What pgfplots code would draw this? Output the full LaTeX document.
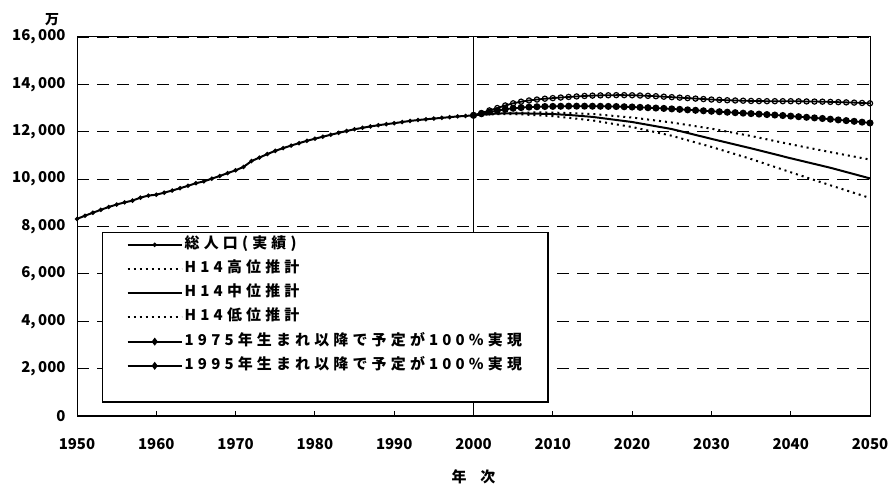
\documentclass[border=0pt]{standalone}
\usepackage{pgfplots}
\pgfplotsset{compat=1.18}
\usepackage{fontspec}
\setmainfont{Noto Sans CJK JP}
\newfontfamily\lgfont{Noto Sans CJK JP}[LetterSpace=28]
\begin{document}
\begin{tikzpicture}
\useasboundingbox (0,0) rectangle (890bp,491bp);
\begin{axis}[
  at={(77bp,75bp)}, anchor=south west,
  scale only axis, width=793bp, height=379bp,
  xmin=1950, xmax=2050, ymin=0, ymax=16000,
  xtick={1950,1960,...,2050}, ytick={0,2000,...,16000},
  xtick pos=left, ytick pos=left,
  tick align=inside, major tick length=5bp,
  tick style={black, line width=1bp},
  ymajorgrids, major grid style={black, line width=1.1bp, dash pattern=on 12bp off 8bp},
  axis line style={line width=1bp},
  /pgf/number format/assume math mode=true,
  scaled y ticks=false,
  xticklabel style={font=\bfseries\fontsize{15}{15}\selectfont, /pgf/number format/1000 sep={}, yshift=-19bp},
  yticklabel style={font=\bfseries\fontsize{15}{15}\selectfont, /pgf/number format/1000 sep={,\,}, xshift=-8bp},
  legend style={at={(0.0315,0.4855)}, anchor=north west, draw=black, line width=1.5bp, fill=white,
    inner xsep=24bp, inner ysep=0bp, row sep=0bp,
    font=\lgfont\bfseries\fontsize{15}{15}\selectfont,
    nodes={inner ysep=0bp, inner xsep=2bp, text height=15.5bp, text depth=8.7bp}},
  legend cell align=left,
  legend image code/.code={\draw[mark repeat=2,mark phase=2,#1] plot coordinates {(0bp,0bp)(27bp,0bp)(54bp,0bp)};},
]
\addplot[black, line width=2bp, mark=*, mark size=1bp] coordinates {
(1950,8320)(1951,8454)(1952,8581)(1953,8703)(1954,8824)(1955,8928)(1956,9017)(1957,9093)(1958,9218)(1959,9306)
(1960,9342)(1961,9429)(1962,9518)(1963,9616)(1964,9718)(1965,9828)(1966,9904)(1967,10020)(1968,10133)(1969,10254)
(1970,10372)(1971,10515)(1972,10760)(1973,10910)(1974,11057)(1975,11194)(1976,11309)(1977,11417)(1978,11519)(1979,11616)
(1980,11706)(1981,11790)(1982,11873)(1983,11954)(1984,12031)(1985,12105)(1986,12166)(1987,12224)(1988,12275)(1989,12321)
(1990,12361)(1991,12410)(1992,12457)(1993,12494)(1994,12527)(1995,12557)(1996,12586)(1997,12616)(1998,12647)(1999,12667)
(2000,12693)};
\addlegendentry{総人口(実績)}
\addplot[black, line width=2bp, dash pattern=on 2bp off 4bp] coordinates {
(2000,12693)(2002,12760)(2005,12800)(2008,12816)(2010,12810)(2015,12750)(2020,12600)(2025,12390)(2030,12130)(2035,11820)(2040,11470)(2045,11140)(2050,10825)};
\addlegendentry{H14高位推計}
\addplot[black, line width=2bp] coordinates {
(2000,12693)(2002,12752)(2004,12777)(2006,12774)(2008,12764)(2010,12747)(2012,12709)(2015,12627)(2020,12411)(2025,12114)(2030,11700)(2035,11300)(2040,10880)(2045,10480)(2050,10030)};
\addlegendentry{H14中位推計}
\addplot[black, line width=2bp, dash pattern=on 2bp off 4bp] coordinates {
(2000,12693)(2002,12730)(2004,12748)(2006,12735)(2010,12660)(2015,12480)(2020,12200)(2025,11830)(2030,11360)(2035,10850)(2040,10290)(2045,9740)(2050,9203)};
\addlegendentry{H14低位推計}
\addplot[black, line width=1.8bp, mark=o, mark size=2.6bp, mark options={solid, line width=1.2bp, fill=white},
  legend image post style={mark=diamond*, mark options={fill=black}}] coordinates {
(2000,12693)(2001,12790)(2002,12900)(2003,13000)(2004,13110)(2005,13200)(2006,13270)(2007,13320)(2008,13360)(2009,13395)
(2010,13420)(2011,13445)(2012,13470)(2013,13490)(2014,13510)(2015,13525)(2016,13535)(2017,13540)(2018,13545)(2019,13545)
(2020,13540)(2021,13530)(2022,13515)(2023,13500)(2024,13480)(2025,13460)(2026,13440)(2027,13420)(2028,13400)(2029,13380)
(2030,13360)(2031,13345)(2032,13330)(2033,13320)(2034,13310)(2035,13300)(2036,13295)(2037,13290)(2038,13290)(2039,13290)
(2040,13290)(2041,13285)(2042,13280)(2043,13275)(2044,13270)(2045,13260)(2046,13250)(2047,13240)(2048,13230)(2049,13215)
(2050,13200)};
\addlegendentry{1975年生まれ以降で予定が100\%実現}
\addplot[black, line width=1.8bp, mark=*, mark size=2.6bp,
  legend image post style={mark=diamond*}] coordinates {
(2000,12693)(2001,12760)(2002,12830)(2003,12890)(2004,12950)(2005,12990)(2006,13020)(2007,13040)(2008,13055)(2009,13065)
(2010,13070)(2011,13075)(2012,13080)(2013,13080)(2014,13080)(2015,13078)(2016,13075)(2017,13070)(2018,13065)(2019,13055)
(2020,13045)(2021,13030)(2022,13015)(2023,13000)(2024,12985)(2025,12965)(2026,12945)(2027,12925)(2028,12905)(2029,12885)
(2030,12865)(2031,12845)(2032,12825)(2033,12805)(2034,12785)(2035,12765)(2036,12745)(2037,12725)(2038,12705)(2039,12685)
(2040,12660)(2041,12635)(2042,12610)(2043,12585)(2044,12560)(2045,12530)(2046,12500)(2047,12470)(2048,12440)(2049,12405)
(2050,12370)};
\addlegendentry{1995年生まれ以降で予定が100\%実現}
\addlegendimage{empty legend}
\addlegendentry{}
\draw[black, line width=1.5bp] (axis cs:2000,0) -- (axis cs:2000,16000);
\draw[black, line width=2bp] (rel axis cs:0,1) -- (rel axis cs:0,0) -- (rel axis cs:1,0);
\end{axis}
\node at (52bp,471bp) {\bfseries\fontsize{14}{14}\selectfont 万};
\node at (473.5bp,14bp) {\bfseries\fontsize{15}{15}\selectfont 年\hspace{14bp}次};
\end{tikzpicture}
\end{document}
